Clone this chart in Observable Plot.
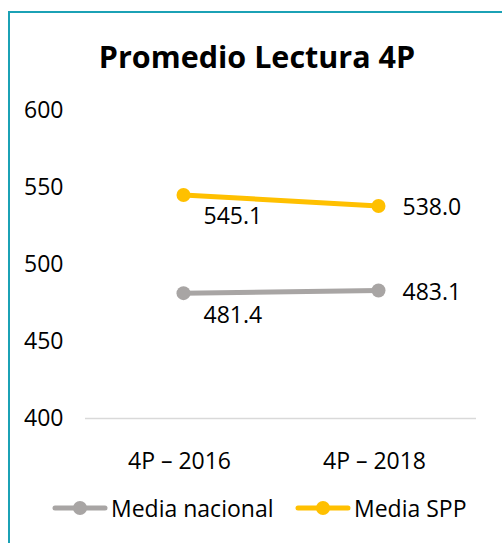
<!DOCTYPE html>
<html>
<head>
<meta charset="utf-8">
<script src="https://cdn.jsdelivr.net/npm/d3@7"></script>
<script src="https://cdn.jsdelivr.net/npm/@observablehq/plot@0.6"></script>
<style>
  html, body { margin: 0; padding: 0; background: #fff; }
  body { width: 502px; height: 543px; position: relative; overflow: hidden; font-family: "Open Sans", sans-serif; }
  #frame { position: absolute; left: 8px; top: 11px; width: 520px; height: 560px; border-left: 2px solid #1BA1B5; border-top: 2px solid #1BA1B5; box-sizing: border-box; }
  #title { position: absolute; left: 0; width: 514px; top: 36px; text-align: center; font-weight: 700; font-size: 30.5px; line-height: 40px; color: #000; }
  #chart { position: absolute; left: 0; top: 80px; }
  #chart svg text { font-size: 23px; font-family: "Open Sans", sans-serif; fill: #000; }
  #legend { position: absolute; top: 492px; left: 0; width: 502px; height: 32px; }
  .leg { position: absolute; top: 0; display: flex; align-items: center; height: 32px; font-size: 23px; color: #000; }
  .leg svg { margin-right: 3px; }
</style>
</head>
<body>
<div id="frame"></div>
<div id="title">Promedio Lectura 4P</div>
<div id="chart"></div>
<div id="legend"></div>
<script>
const categories = ["4P – 2016", "4P – 2018"];
const seriesNames = ["Media nacional", "Media SPP"];
const mediaNacional = [481.4, 483.1];
const mediaSPP = [545.1, 538.0];
const yTicks = [400, 450, 500, 550, 600];
const colors = ["#A8A5A4", "#FFC000"];

const rows = [];
[mediaNacional, mediaSPP].forEach((vals, s) => {
  vals.forEach((v, i) => rows.push({ cat: categories[i], series: seriesNames[s], value: v, idx: i }));
});

const plot = Plot.plot({
  width: 502,
  height: 400,
  marginLeft: 85,
  marginRight: 26,
  marginTop: 30,
  marginBottom: 62,
  style: { fontFamily: "Open Sans, sans-serif", fontSize: "23px", color: "#000", background: "transparent" },
  x: { type: "point", domain: categories, padding: 0.5, label: null },
  y: { domain: [400, 600], ticks: yTicks, label: null },
  color: { domain: seriesNames, range: colors },
  marks: [
    Plot.axisY({ ticks: yTicks, tickSize: 0, tickPadding: 22, label: null, fontSize: 23, tickFormat: d => String(d) }),
    Plot.axisX({ tickSize: 0, tickPadding: 34, dx: -4, label: null, fontSize: 23 }),
    Plot.ruleY([400], { stroke: "#D9D9D9", strokeWidth: 1.5 }),
    Plot.line(rows, { x: "cat", y: "value", z: "series", stroke: "series", strokeWidth: 5, strokeLinecap: "round" }),
    Plot.dot(rows, { x: "cat", y: "value", fill: "series", r: 7 }),
    Plot.text(rows.filter(d => d.idx === 0), { x: "cat", y: "value", text: d => d.value.toFixed(1), textAnchor: "start", dx: 20, dy: 22, fontSize: 23, fill: "#000" }),
    Plot.text(rows.filter(d => d.idx === 1), { x: "cat", y: "value", text: d => d.value.toFixed(1), textAnchor: "start", dx: 24, dy: 2, fontSize: 23, fill: "#000" })
  ]
});
document.getElementById("chart").appendChild(plot);

const legend = document.getElementById("legend");
const legLeft = [52, 295];
seriesNames.forEach((name, i) => {
  const item = document.createElement("div");
  item.className = "leg";
  item.style.left = legLeft[i] + "px";
  item.innerHTML = `<svg width="56" height="20"><line x1="3" y1="10" x2="53" y2="10" stroke="${colors[i]}" stroke-width="5" stroke-linecap="round"/><circle cx="28" cy="10" r="7" fill="${colors[i]}"/></svg><span>${name}</span>`;
  legend.appendChild(item);
});
</script>
</body>
</html>
